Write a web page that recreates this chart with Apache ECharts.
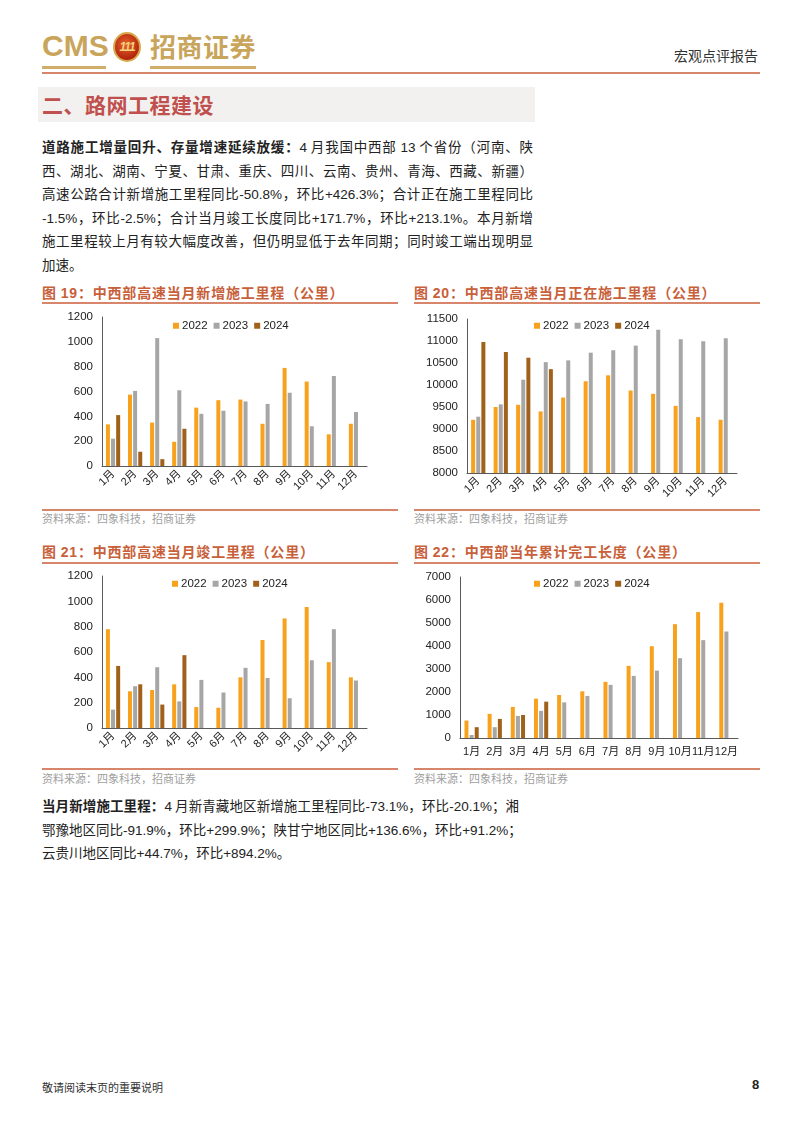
<!DOCTYPE html>
<html><head><meta charset="utf-8">
<script src="https://cdn.jsdelivr.net/npm/echarts@6/dist/echarts.min.js"></script>
<style>
html,body{margin:0;padding:0;background:#fff;}
body{width:802px;height:1133px;position:relative;overflow:hidden;font-family:"Noto Sans CJK SC","Liberation Sans",sans-serif;color:#222;}
.abs{position:absolute;}
.logo-cms{left:42px;top:29px;font-family:"Liberation Sans",Arial,sans-serif;font-weight:bold;font-size:30px;color:#c9a55b;letter-spacing:0px;line-height:34px;}
.logo-cn{left:150px;top:28px;font-weight:bold;font-size:26px;color:#c9a55b;line-height:36px;letter-spacing:0.5px;}
.uline{height:3px;background:#cfae6a;}
.emblem{left:113px;top:32px;width:28px;height:30px;border-radius:50%;background:radial-gradient(circle at 45% 40%,#e8632c,#b3260f 70%);border:2px solid #d8aa4e;box-sizing:border-box;color:#f3d27a;font-family:"Liberation Sans",Arial;font-weight:bold;font-style:italic;font-size:12px;line-height:26px;text-align:center;letter-spacing:-1px;}
.hdr-right{right:44px;top:45px;font-size:14px;color:#333;}
.rule{height:1.5px;background:#d7866c;}
.secbox{left:38px;top:87px;width:497px;height:35px;background:#f3f1f0;}
.sectitle{left:42px;top:89px;font-size:21px;line-height:30px;color:#c0504d;font-weight:bold;letter-spacing:0.5px;}
.para{left:42px;width:491px;font-size:13.5px;color:#222;}
.para div{height:23.6px;line-height:23.6px;text-align:justify;text-align-last:justify;white-space:nowrap;}
.para div.last{text-align-last:left;}
.num{font-family:"Liberation Sans",Arial,sans-serif;}
.ctitle{font-size:14px;color:#c8603a;font-weight:bold;letter-spacing:0.8px;line-height:20px;}
.src{font-size:11px;color:#a0a0a0;line-height:16px;}
.chart{position:absolute;}
.foot{left:42px;top:1079px;font-size:11px;color:#333;}
.pnum{left:752px;top:1077px;font-size:13px;font-weight:bold;font-family:"Liberation Sans",Arial;color:#222;}
</style>
</head><body>
<div class="abs logo-cms">CMS</div>
<div class="abs uline" style="left:42px;top:66px;width:64px;"></div>
<div class="abs emblem">111</div>
<div class="abs logo-cn">招商证券</div>
<div class="abs uline" style="left:150px;top:66px;width:106px;"></div>
<div class="abs hdr-right">宏观点评报告</div>
<div class="abs rule" style="left:42px;top:72px;width:718px;"></div>

<div class="abs secbox"></div>
<div class="abs sectitle">二、路网工程建设</div>

<div class="abs para" style="top:135px;">
<div><b>道路施工增量回升、存量增速延续放缓：</b><span class="num">4</span> 月我国中西部 <span class="num">13</span> 个省份（河南、陕</div>
<div>西、湖北、湖南、宁夏、甘肃、重庆、四川、云南、贵州、青海、西藏、新疆）</div>
<div>高速公路合计新增施工里程同比<span class="num">-50.8%</span>，环比<span class="num">+426.3%</span>；合计正在施工里程同比</div>
<div><span class="num">-1.5%</span>，环比<span class="num">-2.5%</span>；合计当月竣工长度同比<span class="num">+171.7%</span>，环比<span class="num">+213.1%</span>。本月新增</div>
<div>施工里程较上月有较大幅度改善，但仍明显低于去年同期；同时竣工端出现明显</div>
<div class="last">加速。</div>
</div>

<div class="abs ctitle" style="left:42px;top:282px;">图 <span class="num">19</span>：中西部高速当月新增施工里程（公里）</div>
<div class="abs rule" style="left:42px;top:302px;width:356px;"></div>
<div class="abs ctitle" style="left:414px;top:282px;">图 <span class="num">20</span>：中西部高速当月正在施工里程（公里）</div>
<div class="abs rule" style="left:414px;top:302px;width:346px;"></div>

<div id="c1" class="chart" style="left:40px;top:305px;width:350px;height:200px;"></div>
<div id="c2" class="chart" style="left:410px;top:305px;width:350px;height:200px;"></div>

<div class="abs rule" style="left:42px;top:509px;width:356px;"></div>
<div class="abs src" style="left:42px;top:510px;">资料来源：四象科技，招商证券</div>
<div class="abs rule" style="left:414px;top:509px;width:346px;"></div>
<div class="abs src" style="left:414px;top:510px;">资料来源：四象科技，招商证券</div>

<div class="abs ctitle" style="left:42px;top:541px;">图 <span class="num">21</span>：中西部高速当月竣工里程（公里）</div>
<div class="abs rule" style="left:42px;top:562px;width:356px;"></div>
<div class="abs ctitle" style="left:414px;top:541px;">图 <span class="num">22</span>：中西部当年累计完工长度（公里）</div>
<div class="abs rule" style="left:414px;top:562px;width:346px;"></div>

<div id="c3" class="chart" style="left:40px;top:565px;width:350px;height:200px;"></div>
<div id="c4" class="chart" style="left:410px;top:565px;width:350px;height:200px;"></div>

<div class="abs rule" style="left:42px;top:768px;width:356px;"></div>
<div class="abs src" style="left:42px;top:770px;">资料来源：四象科技，招商证券</div>
<div class="abs rule" style="left:414px;top:768px;width:346px;"></div>
<div class="abs src" style="left:414px;top:770px;">资料来源：四象科技，招商证券</div>

<div class="abs para" style="top:794px;width:477px;">
<div><b>当月新增施工里程：</b><span class="num">4</span> 月新青藏地区新增施工里程同比<span class="num">-73.1%</span>，环比<span class="num">-20.1%</span>；湘</div>
<div>鄂豫地区同比<span class="num">-91.9%</span>，环比<span class="num">+299.9%</span>；陕甘宁地区同比<span class="num">+136.6%</span>，环比<span class="num">+91.2%</span>；</div>
<div class="last">云贵川地区同比<span class="num">+44.7%</span>，环比<span class="num">+894.2%</span>。</div>
</div>

<div class="abs foot">敬请阅读末页的重要说明</div>
<div class="abs pnum">8</div>

<script>
// ---------- data ----------
const months = ['1月','2月','3月','4月','5月','6月','7月','8月','9月','10月','11月','12月'];
const years = ['2022','2023','2024'];

// 图19 当月新增施工里程
const newStart2022 = [335, 575, 350, 195, 470, 530, 535, 340, 790, 680, 255, 340];
const newStart2023 = [220, 605, 1030, 610, 420, 445, 520, 500, 590, 320, 725, 435];
const newStart2024 = [410, 115, 55, 300, null, null, null, null, null, null, null, null];

// 图20 当月正在施工里程
const inProg2022 = [9210, 9500, 9550, 9400, 9715, 10085, 10220, 9875, 9800, 9525, 9270, 9210];
const inProg2023 = [9280, 9560, 10120, 10520, 10560, 10735, 10790, 10895, 11255, 11040, 10995, 11060];
const inProg2024 = [10980, 10750, 10620, 10360, null, null, null, null, null, null, null, null];

// 图21 当月竣工里程
const done2022 = [780, 290, 300, 345, 165, 160, 400, 695, 865, 955, 520, 400];
const done2023 = [145, 330, 480, 210, 380, 280, 475, 395, 235, 535, 780, 375];
const done2024 = [490, 345, 185, 575, null, null, null, null, null, null, null, null];

// 图22 当年累计完工长度
const cum2022 = [760, 1050, 1350, 1710, 1870, 2030, 2440, 3135, 3990, 4950, 5475, 5880];
const cum2023 = [130, 470, 960, 1180, 1550, 1830, 2310, 2700, 2930, 3470, 4255, 4630];
const cum2024 = [470, 830, 1000, 1580, null, null, null, null, null, null, null, null];

// y-axis ranges
const yAxis1 = {min: 0, max: 1200, interval: 200};
const yAxis2 = {min: 8000, max: 11500, interval: 500};
const yAxis3 = {min: 0, max: 1200, interval: 200};
const yAxis4 = {min: 0, max: 7000, interval: 1000};

// ---------- styling ----------
const colors = ['#F7A11C', '#A6A6A6', '#A0621A'];
const FONT = '"Liberation Sans", Arial, "Noto Sans CJK SC", sans-serif';

function build(el, seriesData, yr, layout) {
  const chart = echarts.init(document.getElementById(el), null, {renderer: 'canvas'});
  chart.setOption({
    animation: false,
    color: colors,
    textStyle: {fontFamily: FONT},
    legend: {
      data: years, left: layout.legendLeft, top: layout.legendTop,
      itemWidth: 6, itemHeight: 6, itemGap: 6, icon: 'rect',
      textStyle: {fontSize: 11.5, color: '#222', fontFamily: FONT, padding: [0, 0, 0, -2]}
    },
    grid: {left: layout.left, top: layout.top, width: layout.width, height: layout.height},
    xAxis: {
      type: 'category', data: months,
      axisLine: {lineStyle: {color: '#595959', width: 1}},
      axisTick: {show: false},
      axisLabel: {color: '#222', fontSize: 11, fontFamily: FONT, rotate: layout.rotate, interval: 0, margin: layout.rotate ? 6 : 8}
    },
    yAxis: {
      type: 'value', min: yr.min, max: yr.max, interval: yr.interval,
      axisLine: {show: true, lineStyle: {color: '#595959', width: 1}},
      axisTick: {show: false},
      splitLine: {show: false},
      axisLabel: {color: '#222', fontSize: 11.5, fontFamily: FONT, margin: 9, formatter: v => String(v)}
    },
    series: seriesData.map((d, i) => ({
      name: years[i], type: 'bar', data: d,
      barWidth: 4, barGap: '28%'
    }))
  });
}

build('c1', [newStart2022, newStart2023, newStart2024], yAxis1,
  {left: 62, top: 12, width: 265, height: 149, rotate: 45, legendLeft: 128, legendTop: 10});
build('c2', [inProg2022, inProg2023, inProg2024], yAxis2,
  {left: 57, top: 14, width: 270, height: 154, rotate: 45, legendLeft: 119, legendTop: 10});
build('c3', [done2022, done2023, done2024], yAxis3,
  {left: 62, top: 11, width: 265, height: 152, rotate: 45, legendLeft: 127, legendTop: 8});
build('c4', [cum2022, cum2023, cum2024], yAxis4,
  {left: 50, top: 12, width: 278, height: 161, rotate: 0, legendLeft: 119, legendTop: 8});
</script>
</body></html>
